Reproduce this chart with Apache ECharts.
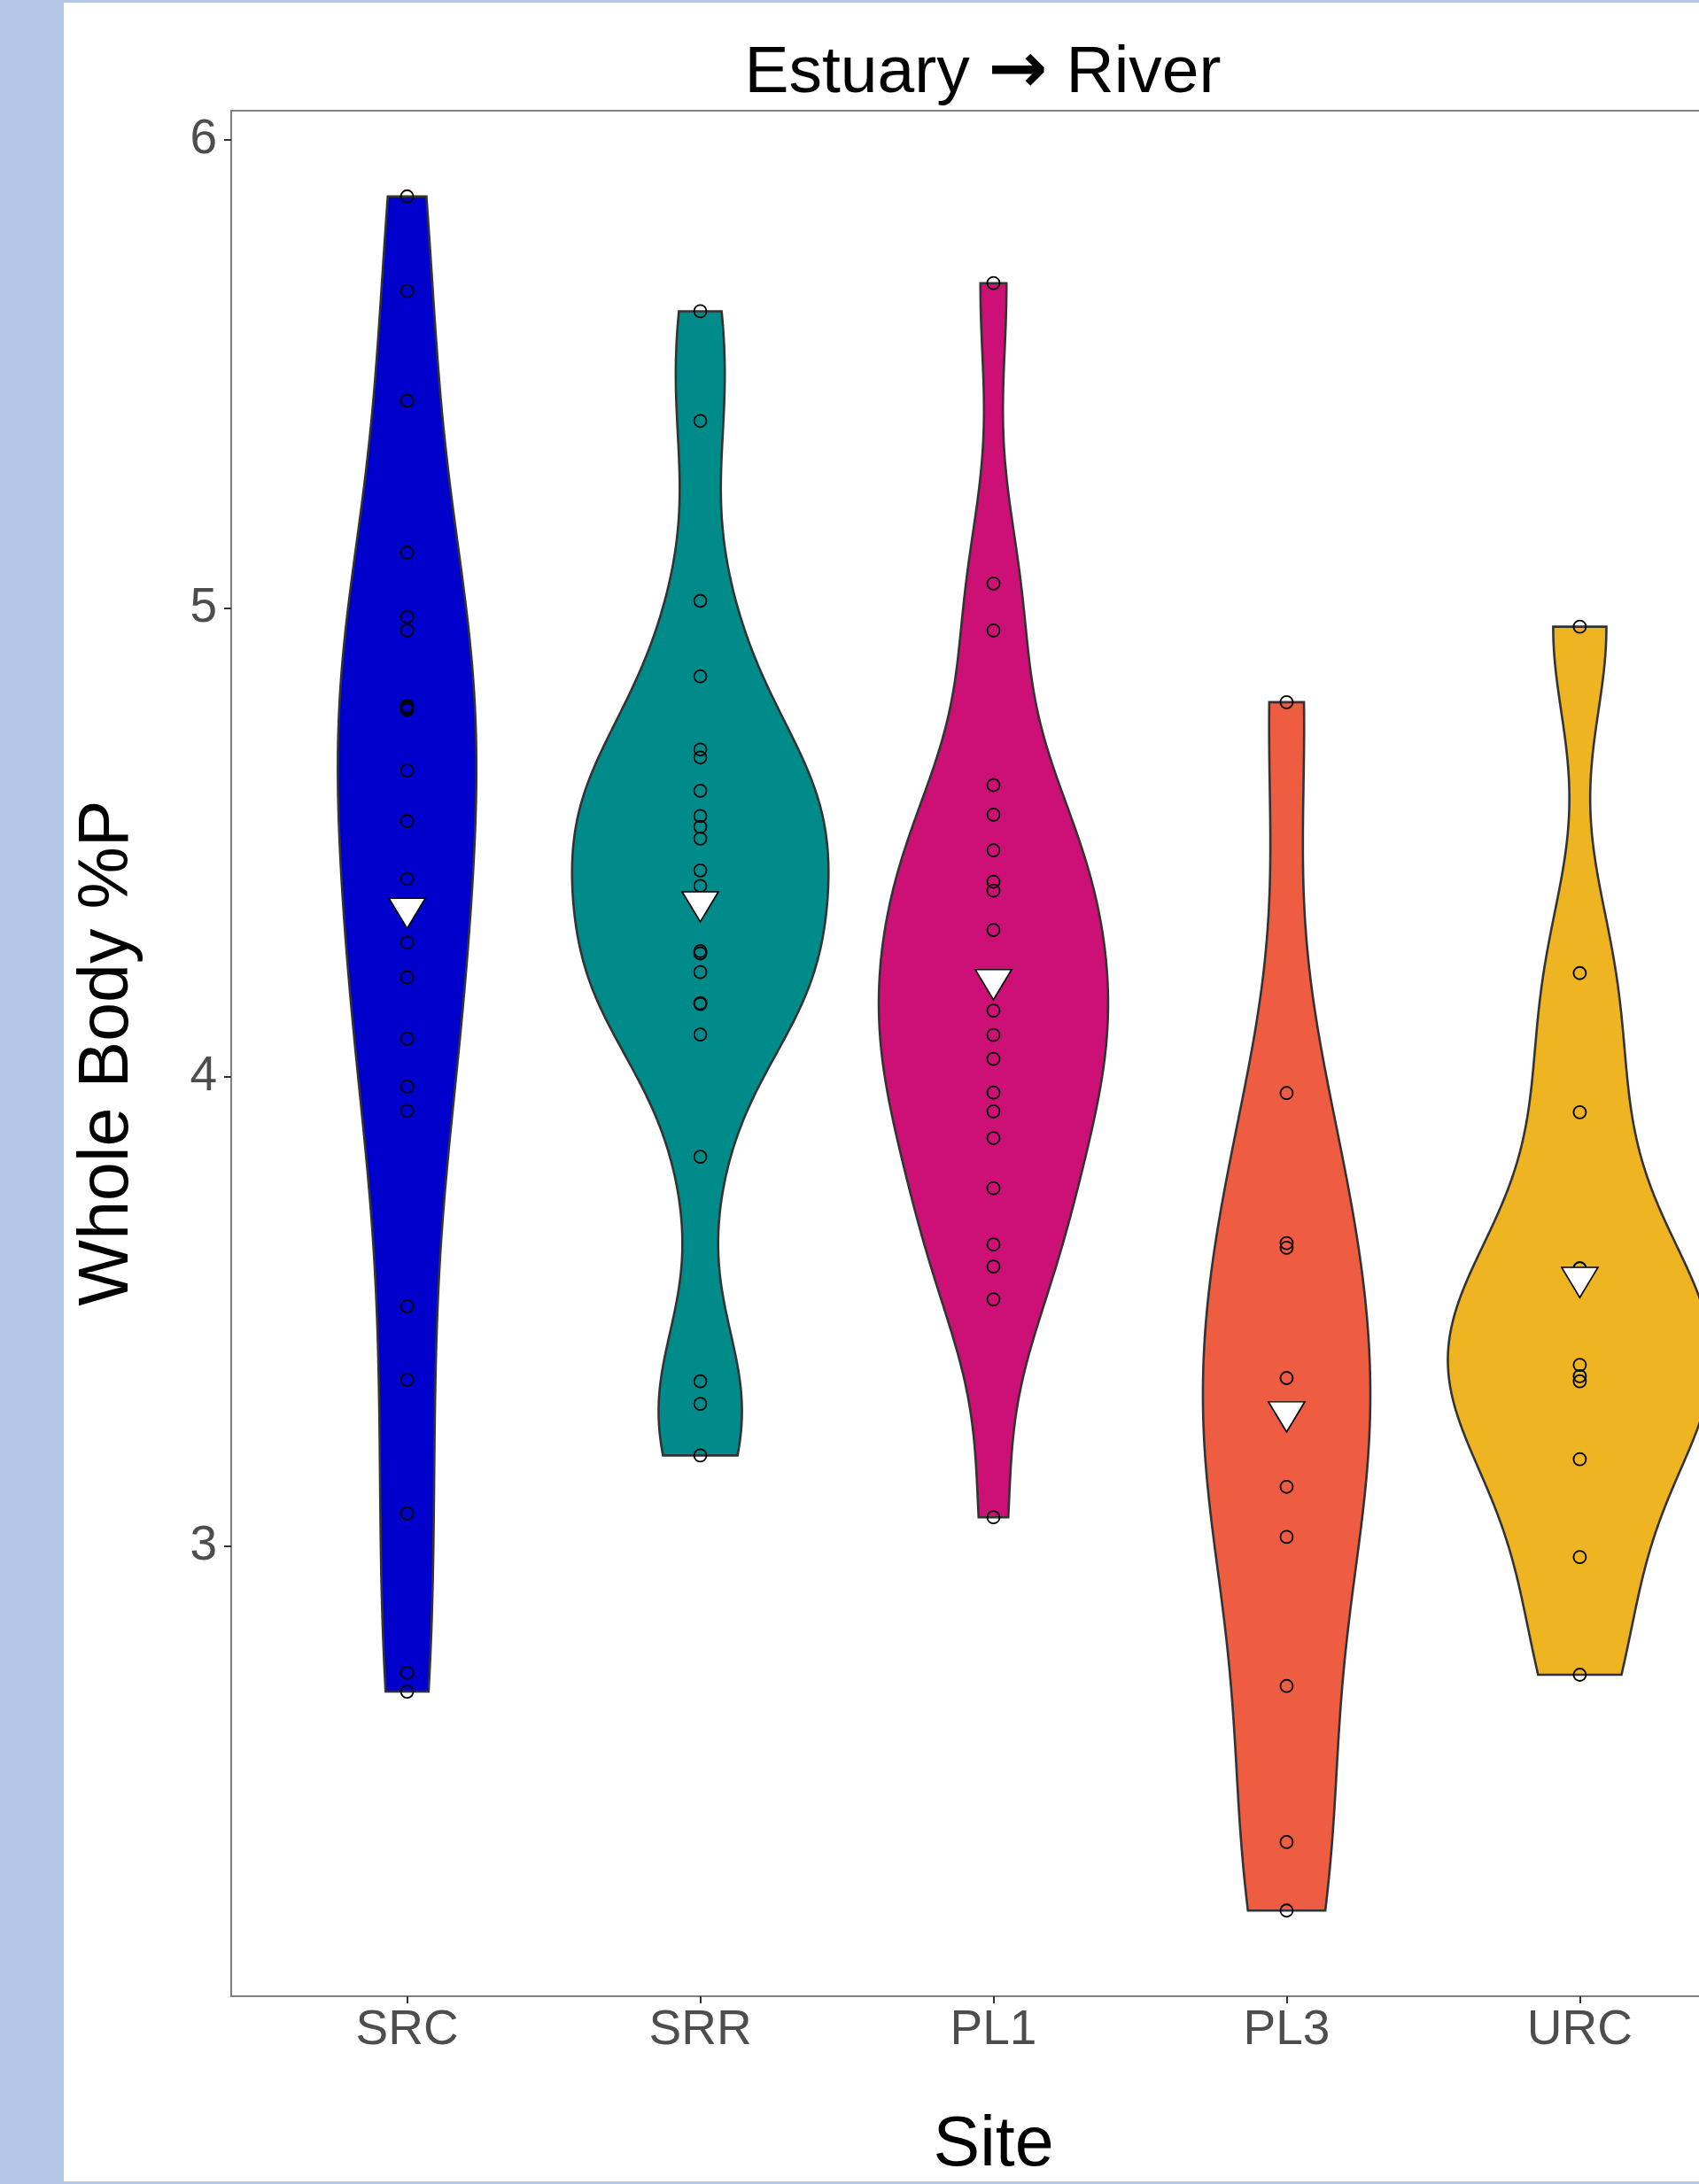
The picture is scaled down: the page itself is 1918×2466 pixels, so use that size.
<!DOCTYPE html>
<html><head><meta charset="utf-8">
<script src="https://cdn.jsdelivr.net/npm/echarts@6/dist/echarts.min.js"></script>
<style>html,body{margin:0;padding:0;background:#fff;overflow:hidden}#c{width:1918px;height:2466px}</style>
</head><body><div id="c"></div>
<script>
// ---- data (a few values hidden under the mean markers / overlapping circles are estimated) ----
const sites = ['SRC', 'SRR', 'PL1', 'PL3', 'URC'];
const siteColors = ['#0000CD', '#008B8B', '#CD1076', '#EE5C42', '#EEB422'];
const SRC = [5.879, 5.677, 5.443, 5.119, 4.982, 4.953, 4.792, 4.788, 4.784, 4.654, 4.546, 4.423, 4.287, 4.213, 4.082, 3.980, 3.928, 3.511, 3.354, 3.069, 2.729, 2.689];
const SRR = [5.634, 5.400, 5.016, 4.855, 4.699, 4.682, 4.611, 4.557, 4.534, 4.509, 4.441, 4.408, 4.269, 4.264, 4.224, 4.158, 4.156, 4.091, 3.830, 3.351, 3.303, 3.193];
const PL1 = [5.694, 5.053, 4.953, 4.623, 4.560, 4.484, 4.417, 4.398, 4.314, 4.209, 4.203, 4.142, 4.090, 4.039, 3.967, 3.927, 3.870, 3.763, 3.643, 3.596, 3.526, 3.061];
const PL3 = [4.800, 3.966, 3.646, 3.636, 3.358, 3.280, 3.126, 3.019, 2.701, 2.368, 2.222];
const URC = [4.961, 4.222, 3.925, 3.592, 3.592, 3.386, 3.362, 3.351, 3.185, 2.976, 2.725];
const yTicks = [3, 4, 5, 6];
const titleLeft = 'Estuary', titleArrow = '\u2192', titleRight = 'River';
const xTitle = 'Site';
const yTitle = 'Whole Body %P';

const groups = [SRC, SRR, PL1, PL3, URC];

// ---- statistics (ggplot-like violin: gaussian KDE, bw.nrd0, trimmed, scale = "area") ----
function mean(a) { return a.reduce((s, v) => s + v, 0) / a.length; }
function q7(sorted, p) {
  const h = (sorted.length - 1) * p, lo = Math.floor(h), hi = Math.min(lo + 1, sorted.length - 1);
  return sorted[lo] + (h - lo) * (sorted[hi] - sorted[lo]);
}
function bwNrd0(a) {
  const n = a.length, m = mean(a);
  const sd = Math.sqrt(a.reduce((s, v) => s + (v - m) * (v - m), 0) / (n - 1));
  const s = a.slice().sort((x, y) => x - y);
  const iqr = q7(s, 0.75) - q7(s, 0.25);
  let lo = Math.min(sd, iqr / 1.34);
  if (!(lo > 0)) lo = sd || Math.abs(s[0]) || 1;
  return 0.9 * lo * Math.pow(n, -0.2);
}
const NPT = 512;
const profiles = groups.map(a => {
  const bw = bwNrd0(a);
  const lo = Math.min(...a), hi = Math.max(...a);
  const ys = [], d = [];
  for (let k = 0; k < NPT; k++) {
    const y = lo + (hi - lo) * k / (NPT - 1);
    let s = 0;
    for (const v of a) { const z = (y - v) / bw; s += Math.exp(-0.5 * z * z); }
    ys.push(y);
    d.push(s / (a.length * bw * Math.sqrt(2 * Math.PI)));
  }
  return { ys, d };
});
const maxD = Math.max(...profiles.map(p => Math.max(...p.d)));

const allVals = [].concat(...groups);
const vMin = Math.min(...allVals), vMax = Math.max(...allVals);
const pad = 0.05 * (vMax - vMin);

const FONT = '"Liberation Sans", Arial, Helvetica, sans-serif';
const gridLeft = 261, gridTop = 125, gridRight = -64, gridBottom = 212;
const gridW = 1918 - gridLeft - gridRight;
const xMid = gridLeft + gridW * (3 - 0.4) / 5.2;

const pointData = [];
groups.forEach((a, i) => a.forEach(v => pointData.push([i + 1, v])));
const meanData = groups.map((a, i) => [i + 1, mean(a)]);

const chart = echarts.init(document.getElementById('c'), null, { renderer: 'canvas' });
chart.setOption({
  backgroundColor: '#ffffff',
  animation: false,
  grid: {
    left: gridLeft, top: gridTop, right: gridRight, bottom: gridBottom,
    show: true, borderColor: '#7f7f7f', borderWidth: 2, backgroundColor: '#ffffff',
    containLabel: false, outerBoundsMode: 'none'
  },
  xAxis: {
    type: 'value', min: 0.4, max: 5.6,
    axisLine: { show: false },
    splitLine: { show: false },
    axisTick: { show: true, length: 8, lineStyle: { color: '#333333', width: 2 }, customValues: [1, 2, 3, 4, 5] },
    axisLabel: {
      customValues: [1, 2, 3, 4, 5],
      formatter: v => sites[Math.round(v) - 1] || '',
      fontFamily: FONT, fontSize: 55, color: '#4d4d4d', margin: 11
    }
  },
  yAxis: {
    type: 'value', min: vMin - pad, max: vMax + pad,
    axisLine: { show: false },
    splitLine: { show: false },
    axisTick: { show: true, length: 8, lineStyle: { color: '#333333', width: 2 }, customValues: yTicks },
    axisLabel: {
      customValues: yTicks,
      formatter: v => String(v),
      fontFamily: FONT, fontSize: 55, color: '#4d4d4d', margin: 16,
      padding: [8, 0, 0, 0]
    }
  },
  graphic: [
    { type: 'rect', left: 0, top: 0, shape: { width: 72, height: 2466 }, style: { fill: '#b4c7e7' }, z: 100 },
    { type: 'rect', left: 0, top: 0, shape: { width: 1918, height: 3 }, style: { fill: '#b4c7e7' }, z: 100 },
    { type: 'rect', left: 0, top: 2463, shape: { width: 1918, height: 3 }, style: { fill: '#b4c7e7' }, z: 100 },
    {
      type: 'text', x: xMid - 12, y: 83, z: 100,
      style: {
        text: '{a|' + titleLeft + ' }{b|' + titleArrow + '}{a| ' + titleRight + '}',
        textAlign: 'center', textVerticalAlign: 'middle',
        rich: {
          a: { fontFamily: FONT, fontSize: 75, color: '#000' },
          b: { fontFamily: '"DejaVu Sans", sans-serif', fontWeight: 'bold', fontSize: 80, color: '#000' }
        }
      }
    },
    { type: 'text', x: xMid, y: 2423, style: { text: xTitle, font: '79px ' + FONT, fill: '#000', textAlign: 'center', textVerticalAlign: 'middle' }, z: 100 },
    { type: 'text', x: 122, y: 1189, rotation: Math.PI / 2, style: { text: yTitle, font: '79px ' + FONT, fill: '#000', textAlign: 'center', textVerticalAlign: 'middle' }, z: 100 }
  ],
  series: [
    {
      type: 'custom',
      data: sites.map((s, i) => [i + 1, mean(groups[i])]),
      encode: { x: 0, y: 1 },
      z: 2,
      renderItem: function (params, api) {
        const gi = params.dataIndex;
        const prof = profiles[gi];
        const cx = gi + 1;
        const left = [], right = [];
        for (let k = 0; k < prof.ys.length; k++) {
          const hw = 0.45 * prof.d[k] / maxD;
          left.push(api.coord([cx - hw, prof.ys[k]]));
          right.push(api.coord([cx + hw, prof.ys[k]]));
        }
        return {
          type: 'polygon',
          shape: { points: left.concat(right.reverse()) },
          style: { fill: siteColors[gi], stroke: '#333333', lineWidth: 2.6, lineJoin: 'miter' }
        };
      }
    },
    {
      type: 'scatter', data: pointData, z: 3,
      symbol: 'circle', symbolSize: 14,
      itemStyle: { color: 'rgba(0,0,0,0)', borderColor: '#000000', borderWidth: 1.8, opacity: 1 },
      emphasis: { disabled: true },
      silent: true
    },
    {
      type: 'scatter', data: meanData, z: 4,
      symbol: 'path://M0,0L2,0L1,1.7Z', symbolSize: [41, 34], symbolOffset: [0, 4.6],
      itemStyle: { color: '#ffffff', borderColor: '#000000', borderWidth: 1.6, opacity: 1 },
      emphasis: { disabled: true },
      silent: true
    }
  ]
});
</script></body></html>
